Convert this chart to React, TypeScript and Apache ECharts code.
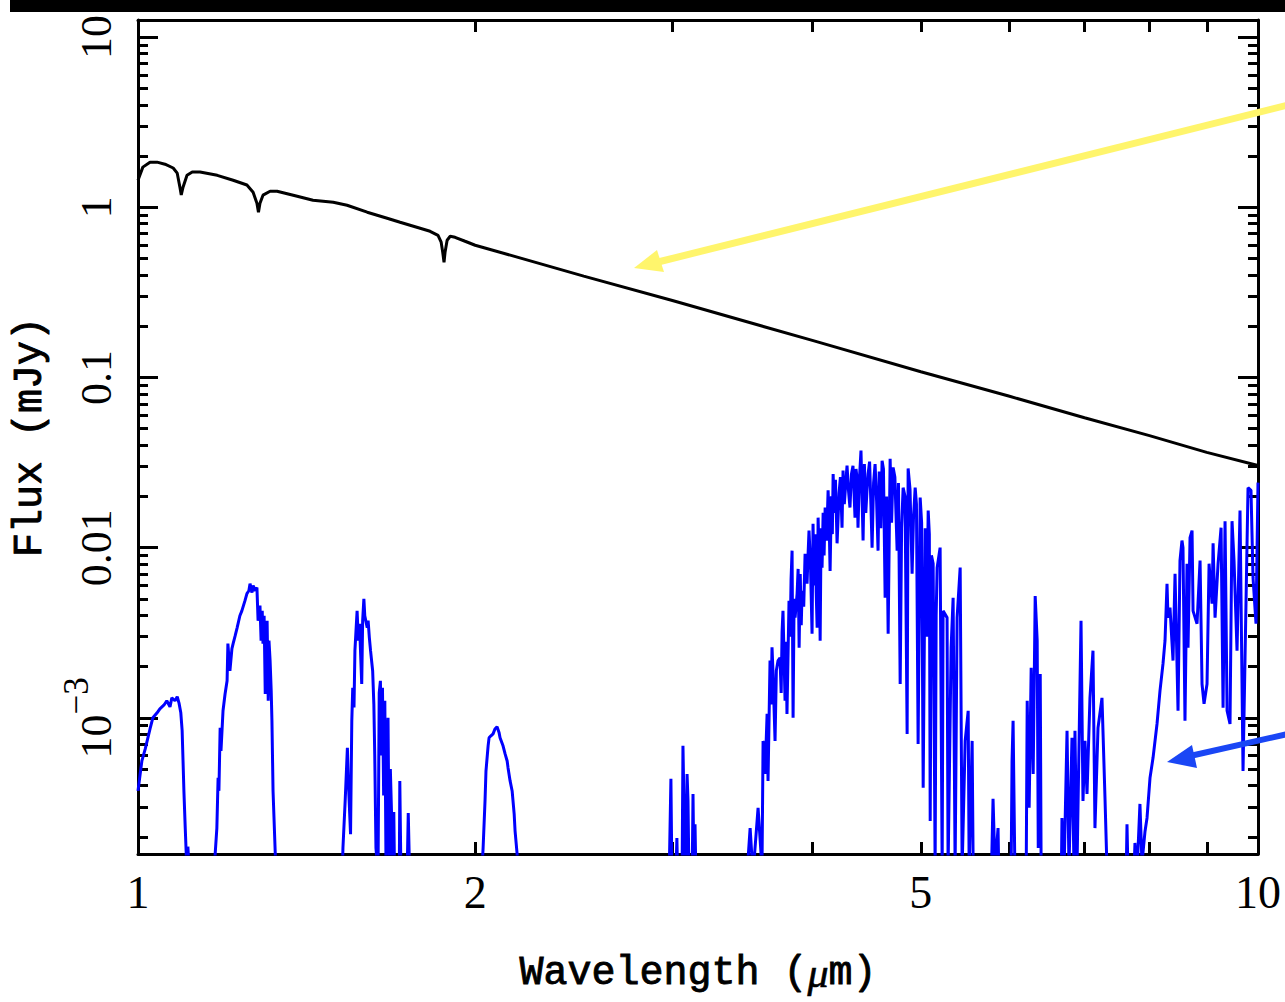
import React, { useEffect, useRef } from 'react';
import * as echarts from 'echarts';

// ---- Axis ticks and labels -------------------------------------------------
const xTickValues = [2, 3, 4, 5, 6, 7, 8, 9];
const xLabelValues = [1, 2, 5, 10];
const yMajorValues = [0.001, 0.01, 0.1, 1, 10];
const yMinorValues = [
  2e-4, 3e-4, 4e-4, 5e-4, 6e-4, 7e-4, 8e-4, 9e-4,
  2e-3, 3e-3, 4e-3, 5e-3, 6e-3, 7e-3, 8e-3, 9e-3,
  0.02, 0.03, 0.04, 0.05, 0.06, 0.07, 0.08, 0.09,
  0.2, 0.3, 0.4, 0.5, 0.6, 0.7, 0.8, 0.9,
  2, 3, 4, 5, 6, 7, 8, 9,
];

// ---- Stellar spectrum (black) : wavelength (um) / flux (mJy) --------------
const starWave = [
  1.0, 1.01, 1.025, 1.04, 1.057, 1.075, 1.084, 1.09, 1.093, 1.097, 1.106, 1.118,
  1.136, 1.177, 1.216, 1.251, 1.267, 1.277, 1.281, 1.285, 1.293, 1.312, 1.331,
  1.376, 1.433, 1.494, 1.537, 1.602, 1.669, 1.714, 1.786, 1.823, 1.853, 1.865,
  1.871, 1.876, 1.88, 1.888, 1.9, 1.919, 1.959, 2.0, 2.5, 3, 4, 5, 6, 7, 8, 9, 10,
];
const starFlux = [
  1.44, 1.72, 1.84, 1.84, 1.79, 1.7, 1.585, 1.31, 1.18, 1.31, 1.54, 1.61,
  1.61, 1.54, 1.44, 1.35, 1.225, 1.056, 0.935, 1.056, 1.177, 1.242, 1.242,
  1.177, 1.099, 1.07, 1.027, 0.935, 0.862, 0.816, 0.752, 0.722, 0.684, 0.623,
  0.544, 0.475, 0.544, 0.64, 0.675, 0.666, 0.631, 0.598, 0.394, 0.283, 0.165,
  0.108, 0.0775, 0.058, 0.0455, 0.0363, 0.0304,
];

// ---- Planet spectrum (blue) : [wavelength um, flux mJy] per window ----------
const bandY: [number, number][] = [
  [1.0, 3.72e-4], [1.004, 4.57e-4], [1.008, 5.58e-4], [1.015, 6.57e-4], [1.019, 7.32e-4],
  [1.025, 8.6e-4], [1.031, 1.0e-3], [1.04, 1.07e-3], [1.046, 1.13e-3], [1.055, 1.19e-3],
  [1.061, 1.26e-3], [1.068, 1.16e-3], [1.072, 1.31e-3], [1.079, 1.26e-3], [1.084, 1.33e-3],
  [1.088, 1.22e-3], [1.092, 1.07e-3], [1.095, 8.4e-4], [1.097, 5.6e-4], [1.099, 3.7e-4],
  [1.102, 2.25e-4], [1.104, 1.65e-4], [1.106, 1.2e-4], [1.108, 1.75e-4], [1.113, 1.0e-4],
];
const bandJ: [number, number][] = [
  [1.167, 1e-4], [1.172, 1.6e-4], [1.176, 2.25e-4], [1.179, 4.44e-4], [1.181, 3.72e-4],
  [1.184, 8.73e-4], [1.186, 6.4e-4], [1.191, 1.1e-3], [1.196, 1.38e-3], [1.201, 1.65e-3],
  [1.203, 2.73e-3], [1.206, 2.17e-3], [1.208, 1.89e-3], [1.213, 2.55e-3], [1.216, 2.73e-3],
  [1.221, 3.03e-3], [1.226, 3.38e-3], [1.233, 3.98e-3], [1.238, 4.25e-3], [1.246, 4.88e-3],
  [1.251, 5.37e-3], [1.256, 5.58e-3], [1.259, 6.14e-3], [1.264, 5.44e-3], [1.267, 5.99e-3],
  [1.272, 5.58e-3], [1.277, 5.82e-3], [1.28, 3.72e-3], [1.285, 4.57e-3], [1.288, 2.84e-3],
  [1.291, 4.25e-3], [1.293, 2.73e-3], [1.296, 3.98e-3], [1.299, 1.38e-3], [1.301, 2.84e-3],
  [1.304, 3.72e-3], [1.307, 1.26e-3], [1.309, 2.84e-3], [1.312, 2.17e-3], [1.315, 1.44e-3],
  [1.317, 9.6e-4], [1.32, 3.72e-4], [1.326, 1.6e-4], [1.328, 1e-4],
];
const bandH: [number, number][] = [
  [1.521, 1e-4], [1.524, 1.72e-4], [1.531, 3.25e-4], [1.538, 6.66e-4], [1.541, 4.26e-4],
  [1.548, 2.07e-4], [1.552, 9.6e-4], [1.555, 1.5e-3], [1.559, 1.15e-3], [1.562, 2.48e-3],
  [1.569, 4.25e-3], [1.573, 2.84e-3], [1.577, 3.57e-3], [1.58, 2.48e-3], [1.584, 1.58e-3],
  [1.587, 3.72e-3], [1.591, 5.0e-3], [1.594, 3.98e-3], [1.602, 3.38e-3], [1.605, 3.72e-3],
  [1.609, 2.96e-3], [1.613, 2.48e-3], [1.62, 1.89e-3], [1.624, 1.2e-3], [1.627, 6.0e-4],
  [1.631, 1.72e-4], [1.638, 1.2e-4], [1.642, 1.4e-3], [1.646, 1.65e-3], [1.65, 6.0e-4],
  [1.653, 1.5e-3], [1.657, 3.5e-4], [1.661, 1.26e-3], [1.665, 1.4e-4], [1.668, 4.7e-4],
  [1.672, 1.0e-3], [1.676, 1.4e-4], [1.68, 5.0e-4], [1.684, 2.8e-4], [1.688, 1.2e-4],
  [1.692, 2.8e-4], [1.695, 1e-4], [1.711, 1e-4], [1.713, 4.26e-4], [1.717, 1.2e-4],
  [1.739, 1.2e-4], [1.743, 2.76e-4], [1.749, 1e-4],
];
const bandK: [number, number][] = [
  [2.024, 1e-4], [2.033, 1.72e-4], [2.041, 3.25e-4], [2.045, 4.87e-4], [2.054, 6.85e-4],
  [2.058, 7.63e-4], [2.066, 7.84e-4], [2.075, 8.05e-4], [2.083, 8.6e-4], [2.092, 8.85e-4],
  [2.101, 8.16e-4], [2.105, 7.63e-4], [2.118, 6.85e-4], [2.127, 6.14e-4], [2.136, 5.58e-4],
  [2.14, 5.08e-4], [2.149, 4.26e-4], [2.158, 3.72e-4], [2.167, 2.73e-4], [2.171, 2.17e-4],
  [2.18, 1.6e-4], [2.185, 1e-4],
];
const band3um: [number, number][] = [
  [2.979, 1e-4], [2.991, 4.39e-4], [2.997, 1.2e-4], [3.022, 1.2e-4], [3.028, 1.97e-4],
  [3.034, 1e-4], [3.06, 1e-4], [3.066, 6.85e-4], [3.072, 3.25e-4], [3.079, 1.2e-4],
  [3.085, 1.4e-4], [3.092, 4.68e-4], [3.098, 3.25e-4], [3.105, 1e-4], [3.124, 1e-4],
  [3.13, 3.57e-4], [3.136, 1.2e-4], [3.143, 2.37e-4], [3.15, 1e-4],
];
const bandM: [number, number][] = [
  [3.491, 1e-4], [3.52, 2.25e-4], [3.541, 1.2e-4], [3.578, 2.96e-4], [3.607, 1.3e-4],
  [3.615, 7.32e-4], [3.63, 4.68e-4], [3.645, 1.055e-3], [3.652, 4.26e-4], [3.667, 2.17e-3],
  [3.675, 1.2e-3], [3.682, 2.6e-3], [3.69, 1.81e-3], [3.705, 7.32e-4], [3.715, 1.9e-3],
  [3.728, 2.17e-3], [3.743, 2.25e-3], [3.752, 1.4e-3], [3.759, 3.2e-3], [3.766, 4.25e-3],
  [3.782, 1.26e-3], [3.79, 2.8e-3], [3.797, 1.055e-3], [3.813, 4.88e-3], [3.822, 3.0e-3],
  [3.829, 6.5e-3], [3.837, 9.6e-3], [3.845, 1.0e-3], [3.853, 5.0e-3], [3.861, 3.88e-3],
  [3.877, 5.37e-3], [3.885, 7.5e-3], [3.893, 2.58e-3], [3.902, 7.0e-3], [3.91, 3.5e-3],
  [3.917, 5.58e-3], [3.93, 4.5e-3], [3.941, 9.2e-3], [3.957, 6.14e-3], [3.965, 9.0e-3],
  [3.973, 1.26e-2], [3.985, 8.0e-3], [3.998, 3.12e-3], [4.006, 1.38e-2], [4.015, 6.0e-3],
  [4.025, 1.2e-2], [4.032, 5.5e-3], [4.04, 3.38e-3], [4.048, 1.5e-2], [4.056, 9.0e-3],
  [4.065, 2.84e-3], [4.073, 1.3e-2], [4.081, 7.63e-3], [4.09, 1.6e-2], [4.098, 9.0e-3],
  [4.107, 1.72e-2], [4.12, 1.1e-2], [4.132, 2.17e-2], [4.14, 1.5e-2], [4.149, 7.3e-3],
  [4.16, 2.0e-2], [4.168, 1.2e-2], [4.175, 2.71e-2], [4.185, 1.6e-2], [4.195, 2.5e-2],
  [4.209, 1.06e-2], [4.218, 1.5e-2], [4.226, 2.08e-2], [4.238, 2.6e-2], [4.252, 1.31e-2],
  [4.261, 2.84e-2], [4.272, 1.8e-2], [4.285, 2.4e-2], [4.296, 3.03e-2], [4.308, 2.2e-2],
  [4.322, 1.72e-2], [4.335, 2.7e-2], [4.349, 3.03e-2], [4.367, 1.5e-2], [4.376, 2.9e-2],
  [4.385, 2.58e-2], [4.394, 1.31e-2], [4.405, 2.4e-2], [4.421, 3.72e-2], [4.44, 1.1e-2],
  [4.452, 3.1e-2], [4.465, 1.6e-2], [4.476, 2.17e-2], [4.486, 2.71e-2], [4.5, 3.2e-2],
  [4.512, 1.8e-2], [4.523, 1.0e-2], [4.537, 2.4e-2], [4.551, 3.1e-2], [4.565, 1.9e-2],
  [4.579, 9.6e-3], [4.59, 2.8e-2], [4.605, 1.3e-2], [4.617, 3.24e-2], [4.63, 2.9e-2],
  [4.646, 5.08e-3], [4.66, 2.0e-2], [4.675, 3.12e-3], [4.694, 3.33e-2], [4.708, 1.4e-2],
  [4.723, 2.96e-2], [4.74, 2.6e-2], [4.762, 9.6e-3], [4.775, 2.4e-2], [4.792, 1.58e-3],
  [4.806, 1.3e-2], [4.821, 2.25e-2], [4.84, 2.0e-2], [4.861, 8.05e-4], [4.871, 2.92e-2],
  [4.89, 2.2e-2], [4.911, 7.03e-3], [4.925, 1.5e-2], [4.942, 2.25e-2], [4.955, 1.8e-2],
  [4.972, 7.03e-4], [4.993, 1.97e-2], [5.008, 1.4e-2], [5.024, 3.88e-4], [5.045, 1.3e-2],
  [5.06, 3.0e-3], [5.076, 1.65e-2], [5.088, 1.2e-2], [5.097, 2.48e-4], [5.11, 9.0e-3],
  [5.128, 8.05e-3], [5.149, 1.3e-4], [5.16, 4.0e-3], [5.17, 7.63e-3], [5.202, 1.0e-2],
  [5.224, 1.3e-4], [5.234, 4.25e-3], [5.277, 3.88e-3], [5.288, 1.3e-4], [5.321, 2.58e-3],
  [5.343, 5.08e-3], [5.365, 1.3e-4], [5.387, 3.88e-3], [5.421, 7.63e-3], [5.443, 1.3e-4],
  [5.477, 7.32e-4], [5.511, 1.1e-3], [5.522, 1.3e-4], [5.556, 7.32e-4], [5.568, 1.3e-4],
  [5.59, 1e-4],
];
const band6um: [number, number][] = [
  [5.777, 1e-4], [5.8, 3.34e-4], [5.824, 1.3e-4], [5.86, 2.25e-4], [5.872, 1e-4],
  [6.018, 1e-4], [6.031, 5.58e-4], [6.044, 9.6e-4], [6.069, 1e-4],
  [6.208, 1e-4], [6.222, 1.26e-3], [6.247, 2.96e-4], [6.273, 1.97e-3], [6.299, 4.68e-4],
  [6.325, 5.2e-3], [6.351, 2.84e-3], [6.365, 1.72e-4], [6.391, 1.81e-3], [6.404, 1e-4],
];
const band7um: [number, number][] = [
  [6.673, 1e-4], [6.683, 2.58e-4], [6.711, 1.2e-4], [6.753, 8.4e-4], [6.78, 1.3e-4],
  [6.822, 7.63e-4], [6.85, 1.3e-4], [6.864, 8.4e-4], [6.893, 1.3e-4], [6.95, 3.72e-3],
  [6.978, 3.25e-4], [7.007, 7.32e-4], [7.036, 3.57e-4], [7.079, 1.31e-3], [7.123, 2.48e-3],
  [7.152, 2.25e-4], [7.197, 8.73e-4], [7.256, 1.31e-3], [7.301, 3.38e-4], [7.331, 1.3e-4],
  [7.346, 1e-4],
];
const bandN: [number, number][] = [
  [7.623, 1e-4], [7.639, 2.37e-4], [7.655, 1.2e-4], [7.749, 1.2e-4], [7.765, 1.84e-4],
  [7.797, 1.2e-4], [7.845, 3.12e-4], [7.878, 1.4e-4], [7.927, 2.15e-4], [7.96, 2.58e-4],
  [8.009, 4.44e-4], [8.059, 5.82e-4], [8.125, 9.2e-4], [8.175, 1.44e-3], [8.226, 2.08e-3],
  [8.26, 2.84e-3], [8.294, 6.14e-3], [8.311, 3.88e-3], [8.345, 4.44e-3], [8.397, 2.17e-3],
  [8.432, 7.03e-3], [8.484, 1.1e-3], [8.518, 8.39e-3], [8.553, 1.1e-2], [8.571, 1.0e-2],
  [8.606, 9.6e-4], [8.642, 8.05e-3], [8.66, 2.58e-3], [8.696, 1.145e-2], [8.732, 1.26e-2],
  [8.75, 4.25e-3], [8.822, 3.57e-3], [8.877, 8.39e-3], [8.913, 1.58e-3], [8.95, 1.21e-3],
  [9.005, 1.58e-3], [9.043, 8.05e-3], [9.099, 4.68e-3], [9.118, 1.06e-2], [9.155, 3.88e-3],
  [9.212, 8.05e-3], [9.269, 1.31e-2], [9.307, 1.145e-3], [9.345, 1.43e-2], [9.384, 1.1e-3],
  [9.441, 9.2e-4], [9.48, 1.43e-2], [9.519, 8.39e-3], [9.578, 2.48e-3], [9.637, 1.65e-2],
  [9.697, 4.87e-4], [9.737, 2.25e-3], [9.797, 2.25e-2], [9.857, 2.17e-2], [9.898, 6.66e-3],
  [9.959, 3.57e-3], [10.0, 2.41e-2],
];

const NUM_FONT = '"Liberation Serif", "DejaVu Serif", serif';
const NAME_FONT = '"Liberation Mono", "DejaVu Sans Mono", monospace';
const Y_MIN = Math.pow(10, -3.8);
const Y_MAX = Math.pow(10, 1.1);
const FRAME = { color: '#000', width: 3 };

function formatFlux(v: number): string {
  if (Math.abs(v - 0.001) < 1e-9) return '{n|10}{s|\u22123}';
  if (v >= 1) return String(Math.round(v));
  return String(Number(v.toPrecision(3)));
}

function xAxisDef(position: 'bottom' | 'top', withLabels: boolean) {
  return {
    type: 'log',
    logBase: 10,
    min: 1,
    max: 10,
    position,
    axisLine: { show: true, onZero: false, lineStyle: FRAME },
    axisTick: { show: true, inside: true, length: 12, customValues: xTickValues, lineStyle: FRAME },
    axisLabel: withLabels
      ? {
          show: true,
          customValues: xLabelValues,
          formatter: (v: number) => String(Math.round(v)),
          margin: 15,
          fontFamily: NUM_FONT,
          fontSize: 46,
          color: '#000',
        }
      : { show: false },
    splitLine: { show: false },
    minorTick: { show: false },
    ...(withLabels
      ? {
          name: 'Wavelength ({mu|\u03bc}m)',
          nameLocation: 'middle',
          nameGap: 98,
          nameTextStyle: {
            fontFamily: NAME_FONT,
            fontSize: 40,
            color: '#000',
            textBorderColor: '#000',
            textBorderWidth: 0.9,
            rich: {
              mu: {
                fontFamily: NUM_FONT,
                fontStyle: 'italic',
                fontSize: 42,
                color: '#000',
                textBorderColor: '#000',
                textBorderWidth: 0.6,
              },
            },
          },
        }
      : {}),
  };
}

function yAxisDef(position: 'left' | 'right', major: boolean, withLabels: boolean) {
  const values = major ? yMajorValues : yMinorValues;
  return {
    type: 'log',
    logBase: 10,
    min: Y_MIN,
    max: Y_MAX,
    position,
    axisLine: { show: major, onZero: false, lineStyle: FRAME },
    axisTick: { show: true, inside: true, length: major ? 20 : 10, customValues: values, lineStyle: FRAME },
    axisLabel: withLabels
      ? {
          show: true,
          customValues: yMajorValues,
          rotate: 90,
          margin: 20,
          formatter: formatFlux,
          fontFamily: NUM_FONT,
          fontSize: 44,
          color: '#000',
          rich: {
            n: { fontFamily: NUM_FONT, fontSize: 44, color: '#000', verticalAlign: 'bottom' },
            s: {
              fontFamily: NUM_FONT,
              fontSize: 35,
              color: '#000',
              verticalAlign: 'top',
              padding: [0, 0, 24, 0],
            },
          },
        }
      : { show: false },
    splitLine: { show: false },
    minorTick: { show: false },
    ...(withLabels
      ? {
          name: 'Flux (mJy)',
          nameLocation: 'middle',
          nameRotate: 90,
          nameGap: 84,
          nameTextStyle: {
            fontFamily: NAME_FONT,
            fontSize: 40,
            color: '#000',
            textBorderColor: '#000',
            textBorderWidth: 0.9,
          },
        }
      : {}),
  };
}

export default function App() {
  const ref = useRef<HTMLDivElement>(null);

  useEffect(() => {
    if (!ref.current) return;
    const chart = echarts.init(ref.current, undefined, { renderer: 'svg' });

    const planet = [
      ...bandY, ...bandJ, ...bandH, ...bandK, ...band3um,
      ...bandM, ...band6um, ...band7um, ...bandN,
    ];
    const star = starWave.map((w, i) => [w, starFlux[i]]);

    chart.setOption({
      animation: false,
      backgroundColor: '#fff',
      grid: { left: 138, right: 27, top: 20, bottom: 148, outerBoundsMode: 'none' },
      xAxis: [xAxisDef('bottom', true), xAxisDef('top', false)],
      yAxis: [
        yAxisDef('left', true, true),
        yAxisDef('left', false, false),
        yAxisDef('right', true, false),
        yAxisDef('right', false, false),
      ],
      series: [
        {
          type: 'line',
          data: planet,
          xAxisIndex: 0,
          yAxisIndex: 0,
          showSymbol: false,
          clip: true,
          lineStyle: { color: '#0000ff', width: 3 },
          z: 2,
        },
        {
          type: 'line',
          data: star,
          xAxisIndex: 0,
          yAxisIndex: 0,
          showSymbol: false,
          clip: true,
          lineStyle: { color: '#000', width: 3 },
          z: 3,
        },
      ],
      graphic: [
        { type: 'rect', shape: { x: 10, y: 0, width: 1280, height: 12 }, style: { fill: '#000' }, z: 10 },
        // yellow pointer to the stellar spectrum
        {
          type: 'line',
          shape: { x1: 1292, y1: 104, x2: 658, y2: 262 },
          style: { stroke: '#fff56c', lineWidth: 7 },
          z: 10,
        },
        {
          type: 'polygon',
          shape: { points: [[634, 268], [664, 272], [657, 250]] },
          style: { fill: '#fff56c' },
          z: 10,
        },
        // blue pointer to the planet spectrum
        {
          type: 'line',
          shape: { x1: 1292, y1: 733, x2: 1190, y2: 756 },
          style: { stroke: '#1a46f5', lineWidth: 6 },
          z: 10,
        },
        {
          type: 'polygon',
          shape: { points: [[1167, 762], [1197, 768], [1192, 745]] },
          style: { fill: '#1a46f5' },
          z: 10,
        },
      ],
    });

    return () => chart.dispose();
  }, []);

  return (
    <div
      ref={ref}
      style={{ position: 'fixed', left: 0, top: 0, width: 1285, height: 1002, background: '#fff' }}
    />
  );
}
